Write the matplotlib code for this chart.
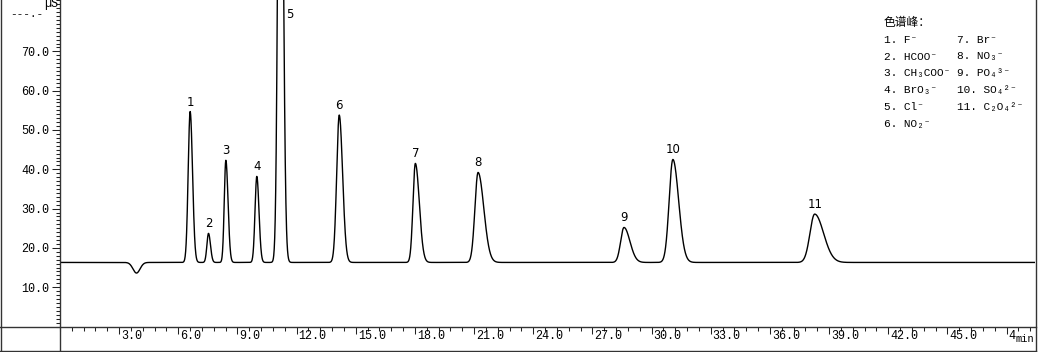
import numpy as np
import matplotlib
matplotlib.use("Agg")
import matplotlib.pyplot as plt
from matplotlib import transforms
from matplotlib.lines import Line2D
from matplotlib.ticker import MultipleLocator, FixedLocator

# ---------------- data ----------------
baseline = 16.3
# peak: label, retention time (min), apex value (uS), left / right width (min)
peak_labels = ["1", "2", "3", "4", "5", "6", "7", "8", "9", "10", "11"]
peak_times = [6.60, 7.53, 8.41, 9.98, 11.17, 14.16, 18.02, 21.20, 28.60, 31.08, 38.27]
peak_heights = [54.7, 23.7, 42.3, 38.2, 186.0, 53.8, 41.5, 39.2, 25.2, 42.5, 28.6]
peak_sigma_left = [0.10, 0.08, 0.08, 0.09, 0.11, 0.13, 0.12, 0.16, 0.17, 0.19, 0.24]
peak_sigma_right = [0.12, 0.10, 0.11, 0.11, 0.13, 0.17, 0.20, 0.29, 0.30, 0.29, 0.45]
# system (water) dip
dip_time = 3.88
dip_value = 13.6
dip_sigma = 0.18

x_ticks = [3.0, 6.0, 9.0, 12.0, 15.0, 18.0, 21.0, 24.0, 27.0, 30.0, 33.0, 36.0, 39.0, 42.0, 45.0, 48.0]
x_ticklabels = ["3.0", "6.0", "9.0", "12.0", "15.0", "18.0", "21.0", "24.0", "27.0",
                "30.0", "33.0", "36.0", "39.0", "42.0", "45.0", "4"]
x_unit = "min"
y_ticks = [10, 20, 30, 40, 50, 60, 70]
y_ticklabels = ["10.0", "20.0", "30.0", "40.0", "50.0", "60.0", "70.0"]
y_top_value = 80
y_top_label = "---.-"
y_unit = "µS"

legend_title = "色谱峰："
legend_col1 = ["1. F⁻", "2. HCOO⁻", "3. CH₃COO⁻", "4. BrO₃⁻", "5. Cl⁻", "6. NO₂⁻"]
legend_col2 = ["7. Br⁻", "8. NO₃⁻", "9. PO₄³⁻", "10. SO₄²⁻", "11. C₂O₄²⁻"]

# ---------------- build curve from peak parameters ----------------
W, H = 1042, 352
px_per_min = 19.72
x_max = 975 / px_per_min
y_max = 326.5 / 3.93

t = np.linspace(0, x_max, 6000)
signal = np.full_like(t, baseline)
signal += (dip_value - baseline) * np.exp(-0.5 * ((t - dip_time) / dip_sigma) ** 2)
for tc, h, sl, sr in zip(peak_times, peak_heights, peak_sigma_left, peak_sigma_right):
    s = np.where(t < tc, sl, sr)
    signal += (h - baseline) * np.exp(-0.5 * ((t - tc) / s) ** 2)

# ---------------- figure ----------------
fig = plt.figure(figsize=(W / 100, H / 100), dpi=100)
fig.patch.set_facecolor("white")
ax = fig.add_axes([60 / W, (H - 326.5) / H, 975 / W, 326.5 / H])
ax.plot(t, signal, color="black", lw=1.0, solid_joinstyle="round")
ax.set_xlim(0, x_max)
ax.set_ylim(0, y_max)
for sp in ax.spines.values():
    sp.set_visible(False)

mono = ["Liberation Mono", "DejaVu Sans Mono"]
tick_col = "#222222"

# y axis
ax.yaxis.set_major_locator(FixedLocator(y_ticks))
ax.set_yticklabels(y_ticklabels, fontfamily=mono, fontsize=8.5, color="black")
ax.yaxis.set_minor_locator(MultipleLocator(1.0))
ax.tick_params(axis="y", which="major", direction="out", length=5.8, width=0.75,
               pad=2.0, color=tick_col)
ax.tick_params(axis="y", which="minor", direction="out", length=2.9, width=0.75,
               color=tick_col)
top_tr = transforms.offset_copy(ax.get_yaxis_transform(), fig=fig, x=-17, y=-1.5, units="dots")
ax.text(0, y_top_value, y_top_label, transform=top_tr, ha="right", va="center",
        fontfamily=mono, fontsize=8, color="black", clip_on=False)

# x axis (labels drawn to the right of each major tick)
ax.xaxis.set_major_locator(FixedLocator(x_ticks))
ax.xaxis.set_minor_locator(MultipleLocator(0.6))
ax.tick_params(axis="x", which="major", direction="out", length=5.2, width=0.75,
               labelbottom=False, color=tick_col)
ax.tick_params(axis="x", which="minor", direction="out", length=2.6, width=0.75,
               color=tick_col)
lab_tr = transforms.offset_copy(ax.get_xaxis_transform(), fig=fig, x=2, y=-9.5, units="dots")
for v, lab in zip(x_ticks, x_ticklabels):
    ax.text(v, 0, lab, transform=lab_tr, ha="left", va="center",
            fontfamily=mono, fontsize=8.5, color="black", clip_on=False)
unit_tr = transforms.offset_copy(ax.get_xaxis_transform(), fig=fig, x=8.5, y=-12.5, units="dots")
ax.text(x_ticks[-1], 0, x_unit, transform=unit_tr, ha="left", va="center",
        fontfamily=mono, fontsize=7.5, color="black", clip_on=False)

# y unit
fig.text(44 / W, 1 - 4 / H, y_unit, ha="left", va="center",
         fontfamily=mono, fontsize=8.5, color="black")

# peak labels
for lab, tc, h in zip(peak_labels, peak_times, peak_heights):
    if h > y_max:
        ax.annotate(lab, xy=(tc, y_max), xytext=(6, -15), textcoords="offset pixels",
                    ha="left", va="center", fontsize=8.5, fontfamily="DejaVu Sans",
                    annotation_clip=False)
    else:
        ax.annotate(lab, xy=(tc, h), xytext=(0, 6), textcoords="offset pixels",
                    ha="center", va="baseline", fontsize=8.5, fontfamily="DejaVu Sans")

# legend block (top right)
leg_font = ["Liberation Mono", "DejaVu Sans Mono", "Noto Sans CJK SC"]
fig.text(884 / W, 1 - 22.5 / H, legend_title, ha="left", va="center",
         fontfamily=["Noto Sans CJK SC", "DejaVu Sans"], fontsize=8.5)
row_y = [40, 56.5, 73, 90, 107, 124]
for yy, s in zip(row_y, legend_col1):
    fig.text(884 / W, 1 - yy / H, s, ha="left", va="center", fontfamily=leg_font, fontsize=8)
for yy, s in zip(row_y, legend_col2):
    fig.text(957 / W, 1 - yy / H, s, ha="left", va="center", fontfamily=leg_font, fontsize=8)

# frame lines (in pixel coordinates)
frame_col = "#333333"
def hline(y, x0, x1):
    fig.add_artist(Line2D([x0 / W, x1 / W], [1 - y / H, 1 - y / H], color=frame_col, lw=1.0))
def vline(x, y0, y1):
    fig.add_artist(Line2D([x / W, x / W], [1 - y0 / H, 1 - y1 / H], color=frame_col, lw=1.0))

vline(0.5, 0, 351)
vline(60, 0, 351)
vline(1035.5, 0, 351)
hline(326.5, 0, 1035.5)
hline(350.5, 0, 1035.5)

fig.savefig("out.png", dpi=100)
